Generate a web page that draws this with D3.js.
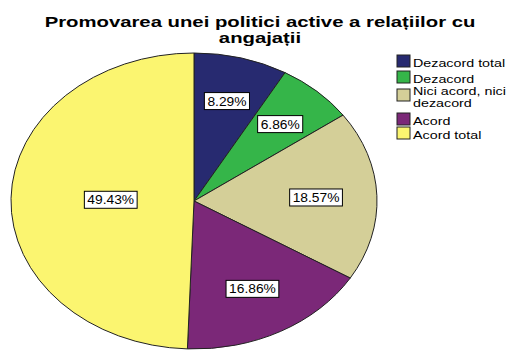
<!DOCTYPE html>
<html>
<head>
<meta charset="utf-8">
<script src="https://cdn.jsdelivr.net/npm/d3@7"></script>
<style>
  body { margin: 0; background: #fff; }
  svg { display: block; font-family: Arial, "Liberation Sans", sans-serif; }
</style>
</head>
<body>
<svg width="510" height="350"></svg>
<script>
var titleLines = ["Promovarea unei politici active a relațiilor cu", "angajații"];
var categories = ["Dezacord total", "Dezacord", "Nici acord, nici dezacord", "Acord", "Acord total"];
var legendLines = [["Dezacord total"], ["Dezacord"], ["Nici acord, nici", "dezacord"], ["Acord"], ["Acord total"]];
var percents = [8.29, 6.86, 18.57, 16.86, 49.43];
var colors = ["#272a70", "#35b549", "#d4cf98", "#7b2878", "#fbf570"];

var svg = d3.select("svg");
var cx = 194, cy = 201, rx = 183, ry = 148;
// the reference is a little stretched sideways, so text is too
var stretch = 1.31;

// title
svg.selectAll(".title")
    .data(titleLines)
    .enter()
    .append("text")
    .attr("class", "title")
    .attr("transform", function(d, i) {
        return "translate(260," + (27 + i * 16) + ") scale(" + stretch + ",1)";
    })
    .attr("text-anchor", "middle")
    .style("font-size", "15.5px")
    .style("font-weight", "bold")
    .text(function(d) { return d; });

var pie = d3.pie().sort(null).value(function(d) { return d; });
var arcs = pie(percents);
var arc = d3.arc().innerRadius(0).outerRadius(rx);

// pie drawn as a circle and squashed vertically into an ellipse
var g = svg.append("g")
    .attr("transform", "translate(" + cx + "," + cy + ") scale(1," + (ry / rx) + ")");

g.selectAll(".slice")
    .data(arcs)
    .enter()
    .append("path")
    .attr("class", "slice")
    .attr("d", arc)
    .style("fill", function(d, i) { return colors[i]; })
    .style("stroke", "#222")
    .style("stroke-width", 1)
    .attr("vector-effect", "non-scaling-stroke");

// labels near the area centroid of each sector
var labels = svg.append("g").attr("transform", "translate(" + cx + "," + cy + ")");
arcs.forEach(function(d, i) {
    var half = (d.endAngle - d.startAngle) / 2;
    var mid = (d.startAngle + d.endAngle) / 2;
    var dist = 1.06 * 2 * rx * Math.sin(half) / (3 * half);
    var x = Math.sin(mid) * dist;
    var y = -Math.cos(mid) * dist * ry / rx;
    var lg = labels.append("g").attr("transform", "translate(" + x + "," + y + ")");
    var t = lg.append("text")
        .attr("text-anchor", "middle")
        .attr("transform", "translate(0,4.5) scale(1.15,1)")
        .style("font-size", "12px")
        .text(percents[i].toFixed(2) + "%");
    var w = t.node().getComputedTextLength() * 1.15;
    lg.insert("rect", "text")
        .attr("x", -w / 2 - 3)
        .attr("y", -8.5)
        .attr("width", w + 6)
        .attr("height", 17)
        .style("fill", "#fff")
        .style("stroke", "#000")
        .style("stroke-width", 1);
});

// legend
var legendY = [55, 71, 89, 113, 127];
var legend = svg.selectAll(".legend")
    .data(legendLines)
    .enter()
    .append("g")
    .attr("class", "legend")
    .attr("transform", function(d, i) { return "translate(397," + legendY[i] + ")"; });

legend.append("rect")
    .attr("width", 13)
    .attr("height", 12)
    .style("fill", function(d, i) { return colors[i]; })
    .style("stroke", "#222")
    .style("stroke-width", 1);

legend.each(function(d) {
    var sel = d3.select(this);
    var off = d.length > 1 ? -6 : 0;
    d.forEach(function(line, j) {
        sel.append("text")
            .attr("transform", "translate(16," + (11.5 + off + j * 12.5) + ") scale(1.3,1)")
            .style("font-size", "11px")
            .text(line);
    });
});
</script>
</body>
</html>
